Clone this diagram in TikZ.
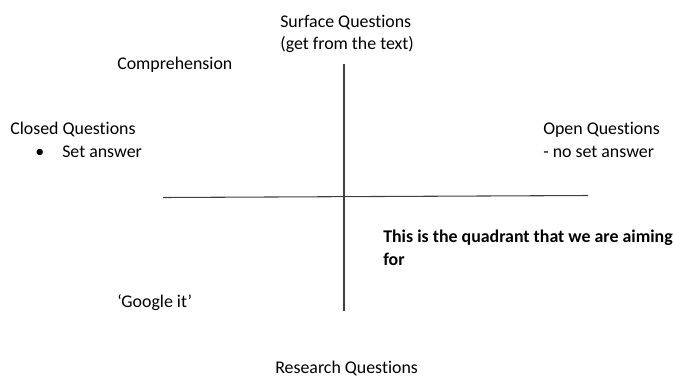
\documentclass[tikz,border=0pt]{standalone}
\usepackage{fontspec}
\setmainfont{Carlito}[Ligatures=NoCommon]
\usepackage{tikz}
\usetikzlibrary{positioning}

\begin{document}
\begin{tikzpicture}[x=0.75pt, y=-0.75pt, inner sep=0pt,
    font=\fontsize{13.4}{16}\selectfont,
    lbl/.style={anchor=base west},
    axis/.style={black!75, line width=0.8pt}]
        \useasboundingbox (0,0) rectangle (673,376);
        % Axes
        \coordinate (top) at (344,64);
        \coordinate (bot) at (344,311);
        \coordinate (lft) at (163,197.5);
        \coordinate (rgt) at (588,195.5);
        \draw[axis] (top) -- (bot);
        \draw[axis] (lft) -- (rgt);

        % Top
        \node[lbl] (surf) at (280,27) {Surface Questions};
        \node[lbl] (surf2) at (280,49.5) {(get from the text)};
        \node[lbl] (comp) at (117,69) {Comprehension};

        % Left
        \node[lbl] (closed) at (10,134) {Closed Questions};
        \node[lbl] (bul) at (35,157) {\textbullet};
        \node[lbl] (setans) at (62,157) {Set answer};

        % Right
        \node[lbl] (open) at (543,134) {Open Questions};
        \node[lbl] (noset) at (543,157) {- no set answer};

        % Aim
        \node[lbl, font=\fontsize{13.4}{16}\selectfont\bfseries] (aim) at (383,242)
             {This is the quadrant that we are aiming};
        \node[lbl, font=\fontsize{13.4}{16}\selectfont\bfseries] (aim2) at (383,265) {for};

        % Bottom
        \node[lbl] (goog) at (117,307) {‘Google it’};
        \node[lbl] (res) at (275,373) {Research Questions};
    \end{tikzpicture}
\end{document}
